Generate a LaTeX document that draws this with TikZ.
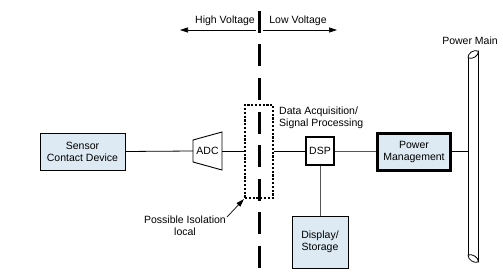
\documentclass[tikz,border=0pt]{standalone}
\usepackage{fontspec}
\setmainfont{Liberation Sans}
\usetikzlibrary{arrows.meta}
\definecolor{boxblue}{HTML}{DDEAF3}
\definecolor{wire}{HTML}{555555}
\begin{document}
\begin{tikzpicture}[x=1pt,y=-1pt,
  every node/.style={font=\fontsize{10.5}{12}\selectfont},
  bluebox/.style={draw=black, fill=boxblue, align=center, inner sep=0pt},
  txt/.style={inner sep=0pt, align=center},
  conn/.style={draw=black, line width=0.8pt},
  thinconn/.style={draw=wire, line width=0.7pt},
  arr/.style={-{Triangle[length=8pt,width=5pt]}, line width=0.7pt}]
\useasboundingbox (0,0) rectangle (503,278);

% voltage arrows and labels
\node[txt] (hv) at (225,21) {High Voltage};
\node[txt] (lv) at (298,21) {Low Voltage};
\coordinate (hvs) at (256,30);
\coordinate (hve) at (180,30);
\coordinate (lvs) at (263,30);
\coordinate (lve) at (337,30);
\draw[arr] (hvs) -- (hve);
\draw[arr] (lvs) -- (lve);

% isolation barrier
\coordinate (bt) at (259,11);
\coordinate (bb) at (259,278);
\draw[line width=3pt, dash pattern=on 22pt off 11.5pt] (bt) -- (bb);

% isolation region
\node[draw=black, line width=2.2pt, dash pattern=on 2.2pt off 1.6pt,
      minimum width=28pt, minimum height=93pt, inner sep=0pt] (iso) at (259,151.5) {};

% blocks
\node[bluebox, line width=0.9pt, minimum width=85pt, minimum height=37pt] (sensor) at (82.5,151.5) {Sensor\\Contact Device};
\node[txt] (adc) at (207.5,151) {ADC};
\coordinate (adcL) at (193,151);
\coordinate (adcR) at (222,151);
\draw[line width=0.9pt] (193,140) -- (222,132) -- (222,170) -- (193,162) -- cycle;

\node[draw=black, fill=white, line width=1.8pt, minimum width=28pt, minimum height=28pt, inner sep=0pt] (dsp) at (320,151) {DSP};
\node[bluebox, line width=2.6pt, minimum width=73pt, minimum height=37pt] (pm) at (414,152) {Power\\Management};
\node[bluebox, line width=0.9pt, minimum width=56pt, minimum height=52pt] (disp) at (320,242) {Display/\\Storage};

\node[inner sep=0pt, align=left, anchor=west] (daq) at (279,118) {Data Acquisition/\\Signal Processing};

% power main pipe
\node[txt] (pmain) at (470,41) {Power Main};
\coordinate (pipeL) at (468,151);
\draw[line width=0.8pt] (468,58) -- (468,255);
\draw[line width=0.8pt] (478.5,51) -- (478.5,262);
\draw[line width=0.8pt] (468,58) .. controls (468,53) and (473,49.5) .. (478.5,51)
   .. controls (478.5,56) and (473,59.5) .. (468,58);
\draw[line width=0.8pt] (468,255) .. controls (472,253.5) and (478.5,257) .. (478.5,262)
   .. controls (474,263.5) and (468,260) .. (468,255);

% connectors
\draw[conn] (sensor.east) -- (adcL);
\draw[conn] (adcR) -- (iso.west |- adcR);
\draw[conn] (iso.east |- dsp.west) -- (dsp.west);
\draw[thinconn] (dsp.east) -- (pm.west |- dsp.east);
\draw[conn] (pm.east |- pipeL) -- (pipeL);
\draw[thinconn] (dsp.south) -- (disp.north);

% isolation label
\node[txt] (isolbl) at (185,226) {Possible Isolation\\local};
\coordinate (isolblS) at (227,217);
\draw[arr] (isolblS) -- (iso.south west);
\end{tikzpicture}
\end{document}
